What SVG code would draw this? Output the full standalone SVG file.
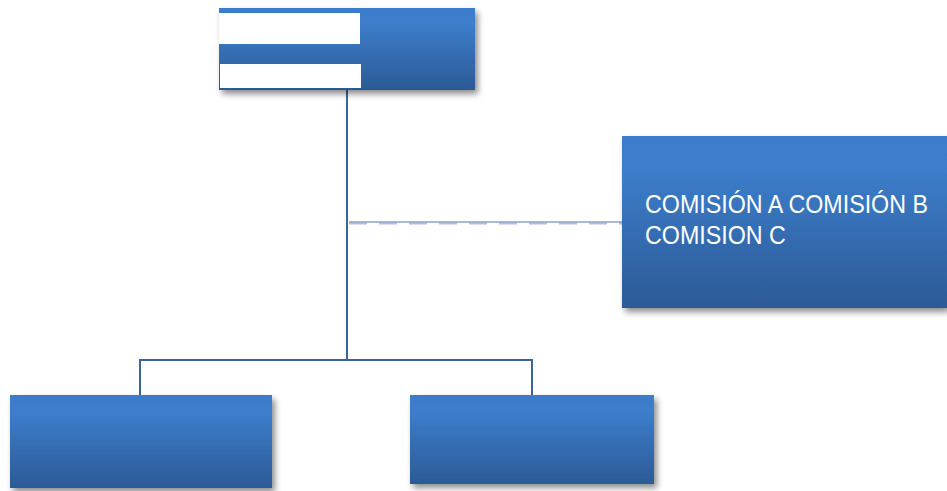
<svg xmlns="http://www.w3.org/2000/svg" width="947" height="491" viewBox="0 0 947 491">
<defs>
<linearGradient id="g" x1="0" y1="0" x2="0" y2="1">
<stop offset="0" stop-color="#3b7dcc"/>
<stop offset="0.2" stop-color="#3c7dca"/>
<stop offset="1" stop-color="#2c5a96"/>
</linearGradient>
<filter id="sh" x="-10%" y="-10%" width="125%" height="130%">
<feGaussianBlur in="SourceAlpha" stdDeviation="3"/>
<feOffset dx="3" dy="4" result="b"/>
<feComponentTransfer><feFuncA type="linear" slope="0.45"/></feComponentTransfer>
<feMerge><feMergeNode/><feMergeNode in="SourceGraphic"/></feMerge>
</filter>
</defs>
<style>
.box{fill:url(#g);filter:url(#sh);}
.ln{stroke:#3d6498;stroke-width:2;fill:none;}
.lbl{font-family:"Liberation Sans",Arial,sans-serif;font-size:26px;fill:#ffffff;}
</style>
<g id="connectors">
<path class="ln" d="M347,90 V360 M140,395 V360 H532 V395"/>
<path d="M349,223.5 H622" stroke="#b3bff0" stroke-width="2" stroke-dasharray="18,12" fill="none"/>
<path d="M349,222 H622" stroke="#5a78a8" stroke-width="1.2" fill="none"/>
</g>
<g id="top">
<rect class="box" x="219" y="8" width="256" height="82"/>
<rect x="219" y="13" width="141" height="31" fill="#ffffff"/>
<rect x="220" y="64" width="141" height="24" fill="#ffffff"/>
</g>
<g id="comisiones">
<rect class="box" x="622" y="136" width="325" height="172"/>
<text class="lbl" transform="translate(645,213) scale(0.895,1)">COMISIÓN A COMISIÓN B</text>
<text class="lbl" transform="translate(645,244) scale(0.895,1)">COMISION C</text>
</g>
<g id="left">
<rect class="box" x="10" y="395" width="262" height="93"/>
</g>
<g id="right">
<rect class="box" x="410" y="395" width="244" height="89"/>
</g>
</svg>
